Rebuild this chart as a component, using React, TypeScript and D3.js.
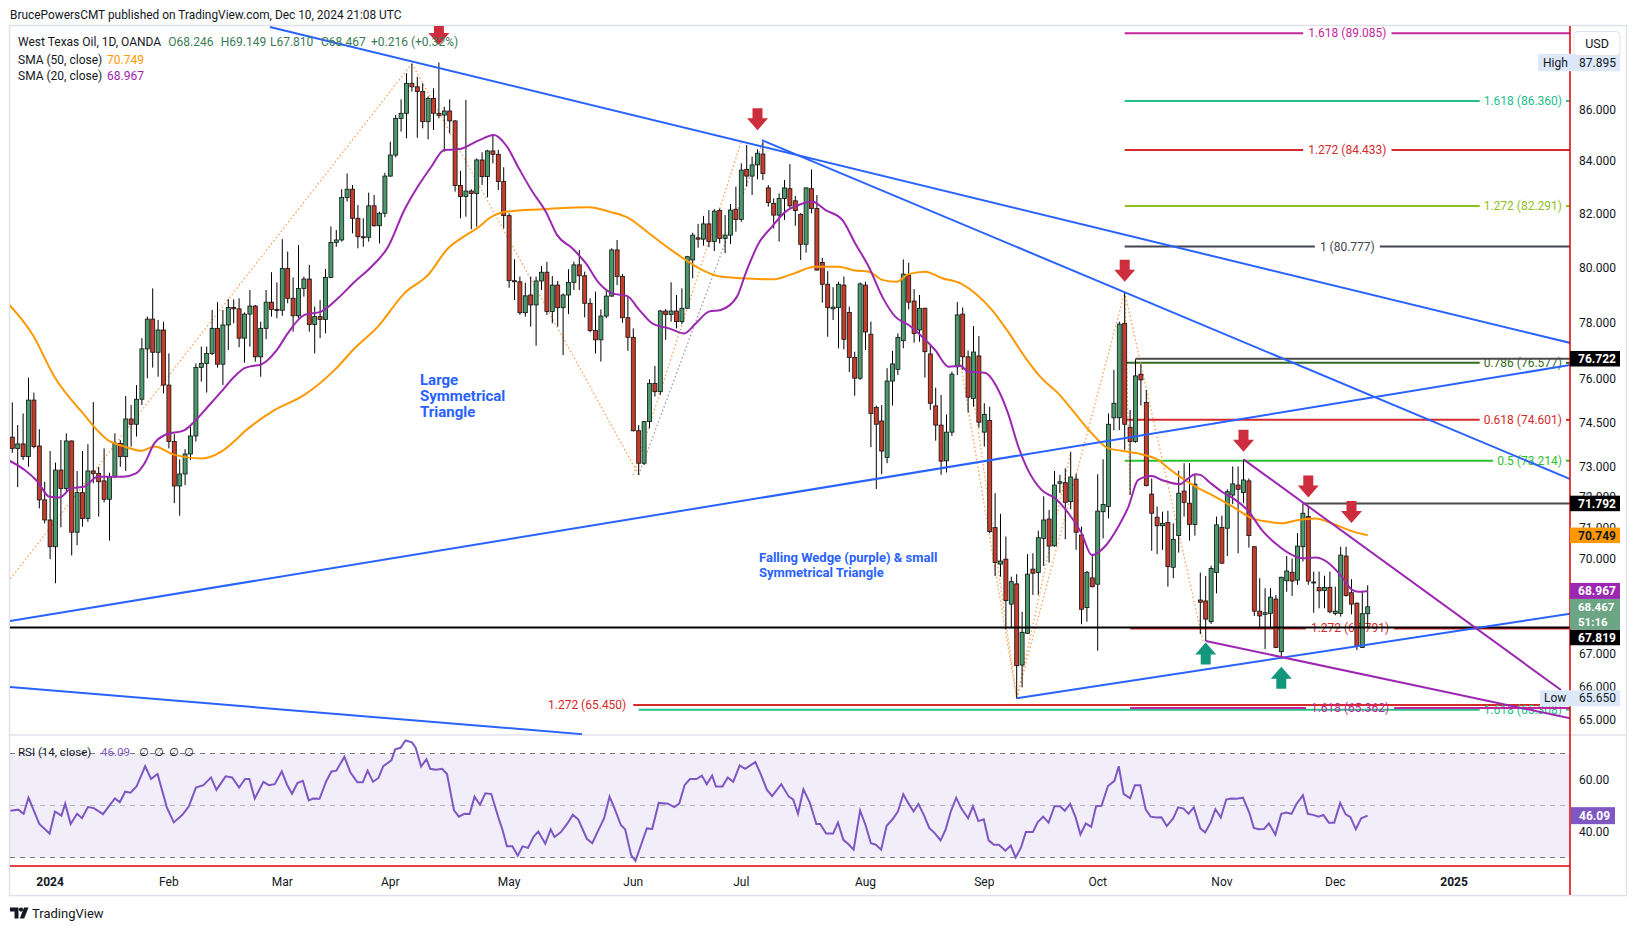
import React from "react";
import * as d3 from "d3";

// ---------------- data ----------------
const opens = [
  74.01,73.63,73.78,73.35,75.28,73.71,71.91,71.25,70.38,72.90,
  72.29,73.88,70.85,72.15,71.30,72.87,72.79,72.54,71.93,72.68,
  73.80,73.35,74.63,74.45,75.31,77.07,78.13,76.95,77.74,75.80,
  73.86,72.37,72.77,73.44,74.05,76.42,76.56,76.91,77.80,76.53,
  77.92,78.55,78.50,77.45,78.31,78.60,76.79,77.80,78.74,78.48,
  78.45,79.97,78.88,78.25,79.24,79.58,77.94,78.22,78.12,79.64,
  80.93,81.02,82.62,82.93,81.83,81.14,81.12,82.30,81.55,82.02,
  83.43,84.24,85.67,85.87,87.06,86.92,86.73,85.54,86.46,85.87,
  85.80,85.96,85.57,83.07,82.65,82.86,82.77,84.05,83.41,84.40,
  84.27,83.22,81.93,79.52,79.48,78.36,79.00,78.64,79.51,79.83,
  78.40,79.36,78.54,79.00,79.46,80.10,79.70,78.70,77.72,77.39,
  78.24,78.96,80.65,79.67,78.18,77.48,74.23,73.13,74.54,75.86,
  75.57,78.42,78.30,78.42,78.04,78.52,80.28,81.10,81.05,81.62,
  80.96,82.12,81.08,81.20,82.17,81.79,83.69,83.43,83.86,84.28,
  82.98,82.39,81.95,82.58,82.95,82.49,81.98,80.86,82.95,82.20,
  80.19,79.39,78.50,78.54,79.36,78.37,76.77,76.04,79.36,77.59,
  75.03,74.56,73.32,75.94,76.35,77.36,79.72,78.78,77.74,78.52,
  76.89,75.08,74.42,73.21,74.18,76.44,78.31,76.79,75.34,76.82,
  74.18,74.58,71.00,69.82,69.98,68.55,69.19,66.66,67.64,69.66,
  69.55,70.65,71.28,70.41,72.46,72.48,71.85,72.60,70.76,68.44,
  69.38,69.18,71.52,71.69,74.67,74.67,77.98,74.35,73.86,76.18,
  75.20,72.10,71.34,71.06,71.17,69.72,70.74,72.20,71.80,71.10,
  68.68,68.65,68.00,69.55,71.01,70.98,72.07,72.40,72.15,72.54,
  70.38,68.33,68.23,68.26,68.71,67.07,69.29,69.56,69.31,70.38,
  71.36,69.25,69.07,68.98,69.08,68.26,68.26,70.08,68.91,68.58,
  67.20,68.246
];
const highs = [
  75.20,74.42,74.82,76.06,75.54,74.28,72.51,73.54,73.15,73.91,
  74.14,73.90,72.87,73.54,73.77,75.21,73.01,73.63,72.81,74.14,
  73.91,75.42,75.11,75.80,77.45,78.22,79.24,78.10,78.04,76.91,
  74.11,73.26,73.60,74.37,76.56,77.15,77.15,78.46,78.74,78.46,
  78.85,78.84,78.88,78.37,79.18,78.64,78.04,79.18,79.83,79.46,
  81.05,80.59,79.64,80.83,79.67,80.10,78.58,78.82,79.95,81.52,
  81.39,82.93,83.53,83.09,82.33,81.83,82.80,82.71,82.08,83.56,
  84.76,85.80,86.42,87.46,87.85,87.32,87.06,86.54,86.86,87.895,
  86.13,86.42,85.60,83.63,86.40,82.93,84.11,84.35,84.44,85.06,
  84.44,83.77,82.02,80.31,79.67,79.45,79.67,79.67,80.06,80.21,
  79.69,79.51,79.06,79.94,80.22,80.65,79.85,78.88,79.12,78.48,
  79.21,80.71,81.02,79.76,78.94,77.80,74.42,74.56,76.00,76.47,
  78.46,78.49,79.46,79.00,79.24,80.43,81.29,81.62,81.92,82.14,
  82.17,82.20,81.95,82.37,83.03,83.92,84.63,84.18,84.46,84.76,
  83.09,82.58,82.77,83.28,83.89,82.67,82.02,83.00,83.69,82.71,
  80.36,79.87,79.28,79.48,79.67,78.58,76.97,79.46,79.48,78.04,
  75.09,75.11,76.39,77.00,77.62,80.30,80.18,79.21,79.00,78.54,
  77.21,75.71,75.46,74.79,76.27,78.74,78.55,77.01,77.88,77.53,
  75.17,75.05,72.13,71.45,70.71,69.42,69.50,68.31,70.14,70.17,
  70.90,72.03,71.58,72.87,72.74,72.96,73.51,72.78,71.03,69.60,
  70.10,72.76,73.26,74.82,76.33,78.04,79.10,74.94,76.71,76.54,
  75.63,72.62,71.69,71.52,71.55,71.14,72.88,73.13,73.13,72.74,
  69.55,69.44,69.77,71.36,71.39,72.26,73.02,73.02,73.26,72.62,
  70.40,69.37,69.05,69.05,68.84,69.42,70.08,70.00,70.82,71.79,
  71.71,69.58,69.58,69.45,69.58,69.10,70.38,70.38,69.34,68.60,
  68.97,69.149
];
const lows = [
  73.48,72.33,73.24,73.01,73.63,71.63,71.14,69.98,69.21,71.01,
  72.13,70.10,70.43,71.03,71.19,72.46,71.36,71.83,70.58,72.63,
  73.01,72.87,73.69,74.03,75.11,76.04,76.41,76.09,75.51,73.63,
  71.80,71.39,72.40,73.24,73.86,75.92,75.54,76.85,76.41,75.80,
  77.03,77.98,77.13,76.58,77.15,76.62,76.09,77.41,78.22,78.16,
  78.25,78.70,77.68,78.16,78.94,77.68,76.91,77.45,77.62,79.61,
  80.77,80.96,82.46,81.27,80.71,80.77,80.96,81.52,80.89,81.87,
  83.41,84.15,85.15,84.89,86.73,84.91,85.28,84.85,85.21,85.67,
  84.37,85.08,82.84,81.83,81.89,81.42,81.52,83.09,82.62,83.92,
  82.90,81.45,79.26,78.82,78.28,78.22,77.86,77.18,79.18,78.28,
  77.98,77.86,76.85,78.31,79.18,79.18,78.19,77.66,76.91,76.62,
  78.16,78.94,79.36,78.00,77.00,74.20,72.74,73.07,74.31,75.40,
  75.46,77.39,78.04,77.80,77.95,78.50,79.61,80.73,80.81,80.75,
  80.61,80.89,80.53,80.87,81.33,81.70,83.03,82.71,83.31,83.28,
  82.27,81.45,80.96,81.77,82.20,81.55,80.28,80.55,82.02,79.89,
  78.72,77.50,78.10,77.09,77.05,76.25,75.43,75.98,77.03,73.67,
  72.27,72.76,73.13,75.09,76.15,77.09,78.48,77.29,77.32,76.06,
  74.94,73.89,72.74,72.82,74.05,76.15,76.33,74.85,75.05,74.33,
  73.69,70.82,69.44,69.42,67.76,67.79,65.65,65.98,67.62,68.84,
  68.84,69.76,69.87,70.38,72.13,70.62,71.60,70.28,67.92,68.00,
  69.08,67.10,70.65,71.30,74.25,74.25,73.58,72.07,73.82,75.09,
  72.36,70.25,70.14,70.28,69.10,69.37,70.19,71.36,70.58,70.74,
  67.61,67.40,67.93,68.89,69.83,70.08,71.77,70.17,71.80,70.35,
  68.18,67.79,67.15,67.84,67.18,66.84,68.94,68.81,69.16,69.90,
  69.16,68.28,68.42,68.42,68.26,68.20,68.16,68.79,68.23,67.12,
  67.18,67.810
];
const closes = [
  73.63,73.78,73.35,75.28,73.69,71.91,71.25,70.38,72.90,72.29,
  73.88,70.85,72.15,71.30,72.87,72.79,72.51,71.93,72.68,73.80,
  73.35,74.63,74.45,75.31,77.07,78.13,76.95,77.74,75.80,73.86,
  72.37,72.77,73.44,74.05,76.42,76.56,76.91,77.80,76.53,77.92,
  78.55,78.50,77.45,78.31,78.60,76.79,77.80,78.74,78.48,78.45,
  79.97,78.88,78.25,79.24,79.58,77.94,78.22,78.12,79.64,80.93,
  81.02,82.62,82.93,81.83,81.14,81.12,82.30,81.55,82.02,83.43,
  84.24,85.67,85.87,87.06,86.92,86.73,85.54,86.46,85.87,85.79,
  85.96,85.57,83.07,82.65,82.86,82.77,84.05,83.41,84.40,84.27,
  83.22,81.93,79.52,79.48,78.36,78.97,78.64,79.51,79.83,78.40,
  79.36,78.54,79.00,79.46,80.10,79.70,78.70,77.72,77.39,78.24,
  78.96,80.65,79.67,78.18,77.48,74.23,73.13,74.54,75.86,75.57,
  78.42,78.30,78.42,78.04,78.52,80.40,81.20,81.05,81.62,80.96,
  82.10,81.08,81.20,82.14,81.79,83.66,83.43,83.86,84.31,83.53,
  82.42,81.95,82.58,82.98,82.30,82.12,80.86,82.98,82.20,79.91,
  79.39,78.54,78.56,79.39,77.41,76.77,76.04,79.40,77.67,74.82,
  74.45,73.54,75.94,76.54,77.47,79.76,78.74,77.62,78.52,76.97,
  75.17,74.42,73.20,74.18,76.18,78.28,76.79,75.38,76.96,74.52,
  74.79,70.87,69.87,69.92,68.66,69.26,66.64,67.67,69.50,69.53,
  70.67,71.25,70.40,72.40,72.51,71.83,72.67,70.85,68.39,69.56,
  69.10,71.54,71.76,74.45,75.17,77.95,74.45,73.86,76.12,75.98,
  72.38,71.47,71.06,71.14,69.74,70.62,72.13,71.83,71.10,72.43,
  68.61,68.08,69.68,71.09,69.85,72.18,72.44,72.26,72.57,70.74,
  68.33,68.18,68.28,68.77,67.20,69.40,69.60,69.28,70.40,71.47,
  69.28,69.23,68.97,69.08,68.31,68.33,70.11,68.82,68.55,67.26,
  68.25,68.467
];

// SMA readings: [bar index, value]
const sma50: [number, number][] = [
  [-0.8,78.70],[3.8,77.56],[7.8,76.09],[13.1,74.82],[17.7,73.91],[20.8,73.69],[23.9,73.55],[26.3,73.69],
  [30,73.41],[35,73.29],[38.7,73.52],[41.7,73.97],[43,74.2],[44.5,74.42],[48.6,74.94],[54.1,75.46],
  [59.7,76.33],[63.4,77.09],[67.7,77.86],[72.6,79.06],[77,79.73],[80.7,80.71],[83.1,81.08],[86.5,81.52],
  [88.3,81.83],[91.4,82.08],[98.2,82.17],[106.8,82.25],[110.5,82.08],[114.2,81.83],[117.9,81.27],
  [121.6,80.71],[124.7,80.28],[127.8,79.91],[131.2,79.67],[135.1,79.61],[141,79.57],[144.4,79.76],
  [148.7,80.03],[153,80.03],[156.1,79.89],[158.6,79.85],[161.1,79.55],[163.8,79.48],[166,79.76],
  [169.1,79.85],[172.2,79.61],[175.6,79.42],[178.3,79.06],[181.4,78.46],[184.4,77.68],[187.5,76.79],
  [190.6,76.04],[193.7,75.51],[196.8,74.82],[199.9,74.14],[203,73.63],[205.4,73.55],[209.1,73.43],
  [212.2,73.24],[214.1,72.96],[215.8,72.73],[219.1,72.35],[222.8,72.01],[226.5,71.63],[229.6,71.30],
  [232.7,71.19],[235.1,71.14],[238.2,71.25],[241.3,71.30],[244.4,71.14],[247.5,70.92],[251,70.749]
];
const sma20: [number, number][] = [
  [-0.8,73.24],[2.3,72.90],[4.7,72.51],[6.9,72.01],[8.75,71.99],[10.9,72.29],[13.4,72.35],[15.8,72.68],
  [20.5,72.68],[22.9,72.79],[24.5,73.13],[26.3,73.80],[28.2,74.08],[31.9,74.25],[33.7,74.54],[36.2,75.05],
  [38.7,75.57],[41.1,76.09],[43,76.39],[44.5,76.47],[45.8,76.50],[47.3,76.68],[49.2,77.09],[51,77.62],
  [54.1,78.28],[57.2,78.40],[60.3,78.88],[63.4,79.48],[66.5,80.03],[69.6,80.77],[72.6,82.14],[75.1,83.03],
  [77.6,83.79],[80,84.44],[82.5,84.46],[86.5,84.82],[89.2,85.02],[91.4,84.63],[93.8,83.73],[96.3,82.84],
  [98.8,82.08],[100.9,81.20],[103.7,80.71],[106.2,80.16],[108.7,79.42],[111.1,79.06],[113.9,78.96],
  [116.1,78.46],[118.5,77.98],[121.6,77.80],[124.4,77.62],[126.6,77.98],[129,78.40],[131.2,78.46],
  [134.2,78.94],[135.8,79.79],[138.2,80.89],[140.7,81.52],[143.2,82.08],[145.6,82.33],[148.1,82.46],
  [150.6,82.14],[153.7,81.77],[156.1,80.89],[158.6,80.03],[161.1,78.94],[163.5,78.22],[166,77.92],
  [168.5,77.50],[170.9,77.03],[173.4,76.44],[175.6,76.47],[177,76.27],[180.1,76.23],[182.6,75.63],
  [184.4,74.82],[186.3,73.69],[188.1,72.90],[190.6,72.24],[193.1,71.96],[195.6,71.47],[198,70.82],
  [199.9,70.11],[202.3,70.38],[204.8,71.03],[206.7,71.69],[208.5,72.57],[211,72.70],[212.8,72.57],
  [216.2,72.43],[217.5,72.59],[219.1,72.76],[220,72.74],[221.6,72.51],[224,72.18],[226.5,71.91],
  [229,71.52],[231.4,70.92],[233.9,70.49],[236.4,70.17],[238.8,70.01],[241.3,70.03],[243.8,69.85],
  [246.2,69.42],[248.1,69.00],[249.3,68.94],[251,68.967]
];
// RSI readings: [bar index, value]
const rsi: [number, number][] = [
  [-0.35,48.0],[1.1,48.4],[2.1,46.8],[3.0,53.0],[5.0,42.9],[6.9,39.2],[7.9,47.7],[9.1,46.1],[9.8,50.7],
  [10.8,42.9],[12.0,46.8],[12.9,45.1],[14.0,49.4],[15.1,49.0],[16.8,46.7],[19.0,52.7],[19.9,51.3],
  [20.9,55.3],[21.9,54.9],[23.0,57.3],[24.6,65.1],[25.7,60.2],[26.9,62.1],[28.6,49.4],[29.9,43.5],
  [31.5,46.4],[32.7,49.7],[34.0,56.9],[35.4,57.8],[36.8,60.8],[37.8,56.0],[39.5,61.2],[40.7,60.8],
  [42.0,56.9],[43.1,60.2],[43.9,60.2],[44.9,52.7],[46.5,59.1],[47.5,57.8],[48.6,58.2],[49.9,63.1],
  [50.9,57.9],[51.8,54.5],[52.8,58.6],[53.8,59.5],[54.9,52.0],[55.7,52.7],[56.9,52.6],[58.1,59.2],
  [59.1,63.1],[60.0,63.4],[61.5,68.7],[62.6,62.8],[63.9,58.9],[64.9,58.9],[65.8,63.4],[66.8,59.1],
  [67.8,60.6],[68.7,65.1],[70.2,67.4],[70.9,71.6],[71.9,72.2],[72.8,75.0],[74.0,74.3],[74.7,72.2],
  [75.7,65.0],[76.7,67.8],[77.4,64.1],[78.4,63.8],[79.6,64.1],[80.5,62.1],[81.8,48.1],[82.7,45.7],
  [83.7,46.8],[84.7,46.7],[85.6,53.4],[86.6,50.3],[87.6,54.7],[88.7,54.4],[90.0,45.5],[90.8,40.5],
  [91.6,34.3],[92.6,34.3],[93.6,30.7],[94.5,34.3],[95.5,33.7],[96.5,37.9],[97.4,40.0],[98.7,35.3],
  [99.7,40.8],[100.4,37.9],[101.6,39.8],[102.8,43.1],[103.8,46.4],[104.8,44.7],[106.4,37.2],[107.4,35.5],
  [108.6,40.8],[109.6,45.1],[110.6,53.4],[111.5,49.0],[112.7,42.5],[113.5,40.8],[114.6,30.9],[115.4,28.7],
  [116.4,34.6],[117.5,41.2],[118.5,41.0],[119.7,51.0],[121.4,50.7],[122.6,49.4],[123.5,50.7],[124.5,57.8],
  [125.5,60.2],[126.7,60.2],[127.7,61.5],[128.6,58.2],[129.6,61.5],[130.3,57.3],[131.5,57.3],[132.5,60.8],
  [133.5,59.1],[134.7,65.4],[135.7,64.1],[137.6,66.7],[138.6,62.1],[139.7,56.2],[140.7,53.6],[142.4,58.2],
  [143.8,53.4],[144.6,52.3],[145.5,46.8],[146.5,56.2],[147.7,51.0],[148.9,42.9],[149.6,42.9],[150.7,39.2],
  [152.0,39.2],[152.9,43.4],[153.9,36.8],[154.9,35.0],[155.8,33.0],[157.0,48.0],[158.0,42.5],[159.0,35.5],
  [159.9,34.9],[160.9,33.0],[161.9,42.1],[163.0,44.7],[164.0,47.7],[165.0,54.3],[165.9,51.0],[166.9,47.7],
  [167.8,50.6],[168.8,46.4],[169.8,41.4],[170.9,39.2],[171.9,36.6],[172.8,40.5],[173.8,47.7],[174.8,53.0],
  [175.7,49.0],[177.0,45.1],[177.9,49.7],[178.9,44.0],[179.9,44.7],[180.8,36.6],[181.8,34.9],[182.7,34.9],
  [183.9,32.6],[184.9,34.6],[185.8,30.0],[186.8,33.9],[187.7,39.8],[189.0,39.8],[189.9,43.6],[190.9,45.7],
  [191.9,43.4],[193.0,49.7],[194.0,49.7],[194.9,48.0],[195.9,50.6],[196.9,45.5],[197.8,38.9],[198.8,43.1],
  [199.8,41.8],[200.7,49.7],[201.7,49.9],[202.9,57.5],[204.1,59.5],[204.9,65.1],[205.8,54.5],[207.0,52.8],
  [207.9,57.8],[208.9,57.8],[209.9,48.4],[210.8,45.7],[211.9,45.4],[212.8,45.5],[213.8,42.1],[215.0,45.1],
  [215.9,49.3],[216.9,48.8],[217.8,46.8],[218.8,49.3],[220.0,41.2],[220.9,39.6],[221.9,43.4],[222.8,48.6],
  [223.8,45.4],[224.8,52.3],[225.7,52.7],[226.7,52.6],[227.9,53.0],[229.1,47.1],[229.9,41.4],[230.8,40.9],
  [231.8,41.0],[232.7,43.1],[233.9,38.8],[235.0,46.8],[235.9,47.3],[236.9,46.8],[237.8,50.6],[239.0,53.9],
  [239.9,46.8],[240.9,46.4],[241.9,45.7],[242.8,46.4],[243.8,43.4],[244.8,43.4],[245.9,51.0],[246.9,46.7],
  [247.8,45.5],[248.8,40.9],[249.8,45.1],[251.0,46.09]
];

const monthLabels = ["2024","Feb","Mar","Apr","May","Jun","Jul","Aug","Sep","Oct","Nov","Dec","2025"];
const monthBars = [7,29,50,70,92,115,135,158,180,201,224,245,267];
const priceTicks = [86,84,82,80,78,76,74.5,73,72,71,70,67,66,65];
const rsiTicks = [60,40];
const rsiLevels = [70,50,30];

// legend
const legendTitle = "West Texas Oil, 1D, OANDA";
const legendChange = "+0.216 (+0.32%)";

// drawings (bar index, price)
const blueLines: [number, number, number, number][] = [
  [47.7,89.34,288.5,77.28],
  [138.8,84.82,288.5,72.60],
  [-0.5,68.02,288.5,76.50],
  [-0.5,65.99,105.5,64.58],
  [186,65.65,288.5,68.25],
];
const purpleLines: [number, number, number, number][] = [
  [228,73.26,286.8,65.90],
  [221,67.40,288.5,65.05],
];
const orangeDotted: [number, number, number, number][] = [
  [-0.8,69.25,74,87.85],
  [74,87.85,116,72.74],
  [115,72.74,135,84.76],
  [175.5,76.68,186,65.65],
  [178,75.4,186,65.65],
  [186,65.65,196,73.51],
  [186,65.65,206,79.10],
  [206,79.10,207,72.07],
  [206,79.10,220.5,67.40],
];
const grayDotted: [number, number, number, number][] = [
  [116,72.74,139,84.76],
];
// fib levels: price, start bar, label, label placement
const fibPrices = [89.085,86.360,84.433,82.291,80.777,76.577,74.601,73.214,67.791,65.450,65.308,65.362];
const fibStarts = [206,206,206,206,206,206,206,206,207,115,116,207];
const fibLabels = ["1.618 (89.085)","1.618 (86.360)","1.272 (84.433)","1.272 (82.291)","1 (80.777)","0.786 (76.577)","0.618 (74.601)","0.5 (73.214)","1.272 (67.791)","1.272 (65.450)","1.618 (65.308)","1.618 (65.362)"];
const fibPlace = ["center","right","center","right","center","right","right","right","center","left","right","center"];
const fibColors = ["#c4259c","#22c08b","#d42a2a","#8cc21c","#434651","#356b1f","#d42a2a","#2dc22d","#d42a2a","#d42a2a","#22c08b","#c4259c"];
// horizontal rays: price, start bar
const rayPrices = [67.819, 76.722, 71.792];
const rayStarts = [-0.5, 208, 239];
const rayColors = ["#000000", "#4a4a4a", "#4a4a4a"];
// arrow tips
const downArrows: [number, number][] = [[79,88.6],[138,85.2],[206,79.48],[228,73.52],[240,71.99],[248,71.15]];
const upArrows: [number, number][] = [[221,67.35],[235,66.61]];

// ---------------- layout ----------------
const PL = 10, PR = 1570, MT = 26, MB = 735, RB = 866, AB = 895, AXR = 1626;
const FONT = "Roboto, 'DejaVu Sans', sans-serif";
const UP = "#4a9a6c", DN = "#c63d2b";
const LEGEND_X = [168.3, 220.7, 270, 321, 371];

let _ctx: any = null;
function tw(s: string, size = 12, weight = "normal") {
  try {
    if (!_ctx) _ctx = document.createElement("canvas").getContext("2d");
    _ctx.font = `${weight} ${size}px Roboto`;
    return _ctx.measureText(s).width;
  } catch (e) {
    return s.length * size * 0.5;
  }
}

export default function App() {
  const x = d3.scaleLinear().domain([0, 251]).range([12.3, 1367.7]);
  const y = d3.scaleLog().domain([65, 86]).range([720, 110]);
  const yr = d3.scaleLinear().domain([30, 70]).range([857.5, 753.5]);

  const smaLine = d3.line<[number, number]>().x(d => x(d[0])).y(d => y(d[1])).curve(d3.curveMonotoneX);
  const rsiLine = d3.line<[number, number]>().x(d => x(d[0])).y(d => yr(d[1]));

  const seg = (s: [number, number, number, number]) => ({ x1: x(s[0]), y1: y(s[1]), x2: x(s[2]), y2: y(s[3]) });

  const candles = opens.map((o, i) => {
    const c = closes[i], h = highs[i], l = lows[i];
    const cx = x(i);
    const up = c >= o;
    const yTop = y(Math.max(o, c)), yBot = y(Math.min(o, c));
    return (
      <g key={i}>
        <line x1={cx} x2={cx} y1={y(h)} y2={y(l)} stroke="#000" strokeWidth={1} />
        <rect x={cx - 2} y={yTop} width={4} height={Math.max(1, yBot - yTop)} fill={up ? UP : DN} stroke="#111" strokeWidth={0.8} />
      </g>
    );
  });

  const fibEls = fibPrices.map((p, k) => {
    const yy = y(p);
    const x1 = x(fibStarts[k]);
    const col = fibColors[k];
    const lab = fibLabels[k];
    const w = tw(lab, 12);
    const place = fibPlace[k];
    let parts: any[] = [];
    if (place === "center") {
      const mid = (x1 + PR) / 2;
      parts.push(<line key="a" x1={x1} x2={mid - w / 2 - 5} y1={yy} y2={yy} stroke={col} strokeWidth={2} />);
      parts.push(<line key="b" x1={mid + w / 2 + 5} x2={PR} y1={yy} y2={yy} stroke={col} strokeWidth={2} />);
      parts.push(<text key="t" x={mid} y={yy + 4} textAnchor="middle" fill={col} fontSize={12}>{lab}</text>);
    } else if (place === "right") {
      const tEnd = PR - 8;
      parts.push(<line key="a" x1={x1} x2={tEnd - w - 4} y1={yy} y2={yy} stroke={col} strokeWidth={2} />);
      parts.push(<line key="b" x1={PR - 4} x2={PR} y1={yy} y2={yy} stroke={col} strokeWidth={2} />);
      parts.push(<text key="t" x={tEnd} y={yy + 4} textAnchor="end" fill={col} fontSize={12}>{lab}</text>);
    } else {
      parts.push(<line key="a" x1={x1} x2={PR} y1={yy} y2={yy} stroke={col} strokeWidth={2} />);
      parts.push(<text key="t" x={x1 - 7} y={yy + 4} textAnchor="end" fill={col} fontSize={12}>{lab}</text>);
    }
    return <g key={k}>{parts}</g>;
  });

  const downPath = (tx: number, ty: number) =>
    `M${tx - 5},${ty - 22}H${tx + 5}V${ty - 12}H${tx + 10.5}L${tx},${ty}L${tx - 10.5},${ty - 12}H${tx - 5}Z`;
  const upPath = (tx: number, ty: number) =>
    `M${tx - 5},${ty + 22}H${tx + 5}V${ty + 12}H${tx + 10.5}L${tx},${ty}L${tx - 10.5},${ty + 12}H${tx - 5}Z`;

  const axisLabel = (val: string, yc: number, bg: string, fg: string, key: string, h = 15.5) => (
    <g key={key}>
      <rect x={PR} y={yc - h / 2} width={50} height={h} fill={bg} />
      <text x={1578} y={yc + 4.2} fill={fg} fontSize={12} fontWeight="bold">{val}</text>
    </g>
  );

  const n = closes.length;
  const last = closes[n - 1];

  const ohlc = [
    "O" + opens[n - 1].toFixed(3),
    "H" + highs[n - 1].toFixed(3),
    "L" + lows[n - 1].toFixed(3),
    "C" + last.toFixed(3),
    legendChange,
  ];

  return (
    <svg width={1634} height={931} viewBox="0 0 1634 931"
      style={{ position: "absolute", left: 0, top: 0, display: "block", background: "#fff" }}
      fontFamily={FONT}>
      <defs>
        <clipPath id="mainClip"><rect x={PL} y={MT} width={PR - PL} height={MB - MT} /></clipPath>
        <clipPath id="rsiClip"><rect x={PL} y={MB} width={PR - PL} height={RB - MB} /></clipPath>
      </defs>
      <rect x={0} y={0} width={1634} height={931} fill="#fff" />

      {/* header */}
      <text x={10} y={19} fontSize={11.9} fill="#131722">BrucePowersCMT published on TradingView.com, Dec 10, 2024 21:08 UTC</text>

      {/* frame */}
      <rect x={9.5} y={25.5} width={AXR - 9} height={AB - 25} fill="none" stroke="#e0e3eb" strokeWidth={1.5} />
      <line x1={PL} x2={AXR} y1={MB} y2={MB} stroke="#e0e3eb" strokeWidth={1.5} />

      {/* RSI background */}
      <rect x={PL} y={yr(70)} width={PR - PL} height={yr(30) - yr(70)} fill="rgba(126,87,194,0.1)" />
      {rsiLevels.map(v => (
        <line key={v} x1={PL} x2={PR} y1={yr(v)} y2={yr(v)} stroke={v === 50 ? "#b2b5be" : "#787b86"} strokeDasharray="5,5" strokeWidth={1} />
      ))}

      <g clipPath="url(#mainClip)">
        {fibEls}
        {orangeDotted.map((s, k) => (
          <line key={k} {...seg(s)} stroke="#ff9f55" strokeWidth={1.3} strokeDasharray="1.5,2.5" />
        ))}
        {grayDotted.map((s, k) => (
          <line key={k} {...seg(s)} stroke="#a0a0a0" strokeWidth={1.3} strokeDasharray="1.5,2.5" />
        ))}
        {candles}
        <path d={smaLine(sma50) || ""} fill="none" stroke="#ff9800" strokeWidth={2} />
        <path d={smaLine(sma20) || ""} fill="none" stroke="#9c27b0" strokeWidth={2} />
        {rayPrices.map((p, k) => (
          <line key={k} x1={x(rayStarts[k])} x2={PR} y1={y(p)} y2={y(p)} stroke={rayColors[k]} strokeWidth={2} />
        ))}
        {blueLines.map((s, k) => <line key={k} {...seg(s)} stroke="#2962ff" strokeWidth={2} />)}
        {purpleLines.map((s, k) => <line key={k} {...seg(s)} stroke="#9c27b0" strokeWidth={2} />)}
        {downArrows.map((a, k) => <path key={k} d={downPath(x(a[0]), y(a[1]))} fill="#cd2d3c" />)}
        {upArrows.map((a, k) => <path key={k} d={upPath(x(a[0]), y(a[1]))} fill="#12977d" />)}
        <g fill="#2962ff" fontWeight="bold" fontSize={15}>
          <text x={420} y={385}>Large</text>
          <text x={420} y={401}>Symmetrical</text>
          <text x={420} y={417}>Triangle</text>
        </g>
        <g fill="#2962ff" fontWeight="bold" fontSize={13}>
          <text x={759} y={562}>Falling Wedge (purple) &amp; small</text>
          <text x={759} y={576.5}>Symmetrical Triangle</text>
        </g>
      </g>

      {/* legend */}
      <g fontSize={12}>
        <text x={18} y={46} fill="#131722">{legendTitle}</text>
        {ohlc.map((s, k) => <text key={k} x={LEGEND_X[k]} y={46} fill="#3b7a57">{s}</text>)}
        <text x={18} y={63.5} fill="#131722">SMA (50, close)</text>
        <text x={107} y={63.5} fill="#ff9800">70.749</text>
        <text x={18} y={79.5} fill="#131722">SMA (20, close)</text>
        <text x={107} y={79.5} fill="#9c27b0">68.967</text>
      </g>

      {/* RSI */}
      <g clipPath="url(#rsiClip)">
        <path d={rsiLine(rsi) || ""} fill="none" stroke="#7e57c2" strokeWidth={2} />
      </g>
      <g fontSize={11.5}>
        <text x={18} y={756} fill="#131722">RSI (14, close)</text>
        <text x={101} y={756} fill="#7e57c2">46.09</text>
        {[139, 154, 169, 184].map(v => <text key={v} x={v} y={756} fill="#131722">∅</text>)}
      </g>

      {/* red scale borders */}
      <line x1={PL} x2={PR} y1={RB} y2={RB} stroke="#e00000" strokeWidth={1.5} />
      <line x1={PR} x2={PR} y1={MT} y2={AB} stroke="#e00000" strokeWidth={1.5} />

      {/* price axis */}
      <g fontSize={12} fill="#131722">
        {priceTicks.map(t => (
          <text key={t} x={1579} y={y(t) + 4}>{t.toFixed(3)}</text>
        ))}
        {rsiTicks.map(t => (
          <text key={t} x={1579} y={yr(t) + 4}>{t.toFixed(2)}</text>
        ))}
      </g>
      {/* High label */}
      <rect x={1538} y={y(87.895) - 8.7} width={82} height={17.4} fill="#dde9fb" />
      <text x={1543} y={y(87.895) + 4} fontSize={12} fill="#131722">High</text>
      <text x={1579} y={y(87.895) + 4} fontSize={12} fill="#131722">87.895</text>
      {/* USD box */}
      <rect x={1574} y={31.5} width={46} height={24} rx={4} fill="#fff" stroke="#e0e3eb" />
      <text x={1597} y={48} textAnchor="middle" fontSize={12.5} fill="#131722">USD</text>

      {axisLabel("76.722", y(76.722), "#000", "#fff", "l1")}
      {axisLabel("71.792", y(71.792), "#000", "#fff", "l2")}
      {axisLabel("70.749", y(70.749), "#ff9800", "#131722", "l3")}
      {axisLabel("68.967", y(68.967), "#9c27b0", "#fff", "l4", 16)}
      <rect x={PR} y={599} width={50} height={30.5} fill="#6ba583" />
      <text x={1578} y={611} fontSize={11.5} fontWeight="bold" fill="#fff">{last.toFixed(3)}</text>
      <text x={1578} y={626} fontSize={11.5} fontWeight="bold" fill="#fff">51:16</text>
      {axisLabel("67.819", 637.5, "#000", "#fff", "l5")}
      {/* Low label */}
      <rect x={1540} y={y(65.65) - 8} width={80} height={16} fill="#dde9fb" />
      <text x={1544} y={y(65.65) + 4} fontSize={12} fill="#131722">Low</text>
      <text x={1579} y={y(65.65) + 4} fontSize={12} fill="#131722">65.650</text>
      {/* RSI value label */}
      <rect x={PR + 1} y={yr(46.09) - 8.5} width={44} height={17} fill="#7e57c2" />
      <text x={1579} y={yr(46.09) + 4.3} fontSize={12} fontWeight="bold" fill="#fff">46.09</text>

      {/* time axis */}
      <g fontSize={12} fill="#131722" textAnchor="middle">
        {monthLabels.map((m, k) => (
          <text key={m} x={x(monthBars[k])} y={885.5} fontWeight={/^\d{4}$/.test(m) ? "bold" : "normal"}>{m}</text>
        ))}
      </g>

      {/* footer logo */}
      <g fill="#131722">
        <path d="M10,907.5H18.5V918.5H14.5V911.5H10Z" />
        <circle cx={21} cy={909.6} r={2.1} />
        <path d="M24,907.5H28.5L24.2,918.5H19.8Z" />
        <text x={32} y={917.5} fontSize={13}>TradingView</text>
      </g>
    </svg>
  );
}
